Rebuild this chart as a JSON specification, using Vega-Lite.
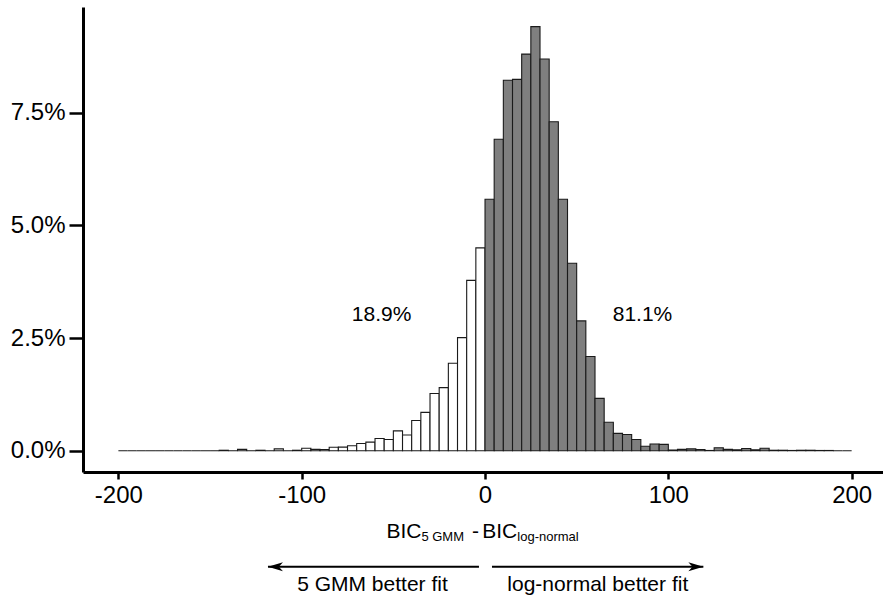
{
  "$schema": "https://vega.github.io/schema/vega-lite/v6.json",
  "width": 800,
  "height": 465,
  "autosize": {"type": "none"},
  "padding": {"left": 83, "top": 7, "right": 0, "bottom": 123},
  "background": "white",
  "config": {
    "view": {"stroke": null},
    "font": "Liberation Sans",
    "text": {"font": "Liberation Sans", "color": "black"}
  },
  "layer": [
    {
      "data": {"values": [
        {"start": -200, "end": -195, "share": 0}, {"start": -195, "end": -190, "share": 0},
        {"start": -190, "end": -185, "share": 0}, {"start": -185, "end": -180, "share": 0},
        {"start": -180, "end": -175, "share": 0}, {"start": -175, "end": -170, "share": 0},
        {"start": -170, "end": -165, "share": 0}, {"start": -165, "end": -160, "share": 0},
        {"start": -160, "end": -155, "share": 0}, {"start": -155, "end": -150, "share": 0},
        {"start": -150, "end": -145, "share": 0}, {"start": -145, "end": -140, "share": 0.0001},
        {"start": -140, "end": -135, "share": 0}, {"start": -135, "end": -130, "share": 0.0003},
        {"start": -130, "end": -125, "share": 0}, {"start": -125, "end": -120, "share": 0.0001},
        {"start": -120, "end": -115, "share": 0}, {"start": -115, "end": -110, "share": 0.0004},
        {"start": -110, "end": -105, "share": 0}, {"start": -105, "end": -100, "share": 0.0001},
        {"start": -100, "end": -95, "share": 0.00055}, {"start": -95, "end": -90, "share": 0.0003},
        {"start": -90, "end": -85, "share": 0.00025}, {"start": -85, "end": -80, "share": 0.00075},
        {"start": -80, "end": -75, "share": 0.0008}, {"start": -75, "end": -70, "share": 0.0011},
        {"start": -70, "end": -65, "share": 0.0016}, {"start": -65, "end": -60, "share": 0.0019},
        {"start": -60, "end": -55, "share": 0.0027}, {"start": -55, "end": -50, "share": 0.0025},
        {"start": -50, "end": -45, "share": 0.0044}, {"start": -45, "end": -40, "share": 0.0035},
        {"start": -40, "end": -35, "share": 0.0067}, {"start": -35, "end": -30, "share": 0.0085},
        {"start": -30, "end": -25, "share": 0.0127}, {"start": -25, "end": -20, "share": 0.014},
        {"start": -20, "end": -15, "share": 0.0194}, {"start": -15, "end": -10, "share": 0.0251},
        {"start": -10, "end": -5, "share": 0.0378}, {"start": -5, "end": 0, "share": 0.045},
        {"start": 0, "end": 5, "share": 0.0558}, {"start": 5, "end": 10, "share": 0.0691},
        {"start": 10, "end": 15, "share": 0.0822}, {"start": 15, "end": 20, "share": 0.0824},
        {"start": 20, "end": 25, "share": 0.088}, {"start": 25, "end": 30, "share": 0.0941},
        {"start": 30, "end": 35, "share": 0.0869}, {"start": 35, "end": 40, "share": 0.073},
        {"start": 40, "end": 45, "share": 0.0558}, {"start": 45, "end": 50, "share": 0.0416},
        {"start": 50, "end": 55, "share": 0.0288}, {"start": 55, "end": 60, "share": 0.0209},
        {"start": 60, "end": 65, "share": 0.0116}, {"start": 65, "end": 70, "share": 0.0063},
        {"start": 70, "end": 75, "share": 0.00385}, {"start": 75, "end": 80, "share": 0.0036},
        {"start": 80, "end": 85, "share": 0.0025}, {"start": 85, "end": 90, "share": 0.001},
        {"start": 90, "end": 95, "share": 0.0015}, {"start": 95, "end": 100, "share": 0.0014},
        {"start": 100, "end": 105, "share": 0.00015}, {"start": 105, "end": 110, "share": 0.0003},
        {"start": 110, "end": 115, "share": 0.0004}, {"start": 115, "end": 120, "share": 0.00025},
        {"start": 120, "end": 125, "share": 0.00005}, {"start": 125, "end": 130, "share": 0.00065},
        {"start": 130, "end": 135, "share": 0.0003}, {"start": 135, "end": 140, "share": 0.0002},
        {"start": 140, "end": 145, "share": 0.0005}, {"start": 145, "end": 150, "share": 0.0002},
        {"start": 150, "end": 155, "share": 0.00055}, {"start": 155, "end": 160, "share": 0.0001},
        {"start": 160, "end": 165, "share": 0.0001}, {"start": 165, "end": 170, "share": 0.00005},
        {"start": 170, "end": 175, "share": 0.0001}, {"start": 175, "end": 180, "share": 0.0001},
        {"start": 180, "end": 185, "share": 0.00005}, {"start": 185, "end": 190, "share": 0.00005},
        {"start": 190, "end": 195, "share": 0}, {"start": 195, "end": 200, "share": 0}
      ]},
      "mark": {"type": "bar", "stroke": "#1a1a1a", "strokeWidth": 1.1},
      "encoding": {
        "x": {
          "field": "start", "type": "quantitative",
          "scale": {"domain": [-219.3, 217.1], "nice": false, "zero": false},
          "axis": {
            "values": [-200, -100, 0, 100, 200],
            "labelExpr": "toString(datum.value)",
            "title": null, "grid": false,
            "domainColor": "black", "domainWidth": 3,
            "tickColor": "black", "tickWidth": 2.5, "tickSize": 7,
            "labelFontSize": 24, "labelColor": "black", "labelPadding": 4,
            "labelFont": "Liberation Sans"
          }
        },
        "x2": {"field": "end"},
        "y": {
          "field": "share", "type": "quantitative",
          "scale": {"domain": [-0.004726, 0.09845], "nice": false, "zero": false},
          "axis": {
            "values": [0, 0.025, 0.05, 0.075], "format": ".1%",
            "title": null, "grid": false,
            "domainColor": "black", "domainWidth": 3,
            "tickColor": "black", "tickWidth": 2.5, "tickSize": 14,
            "labelFontSize": 24, "labelColor": "black", "labelPadding": 4,
            "labelFont": "Liberation Sans"
          }
        },
        "y2": {"datum": 0},
        "fill": {
          "condition": {"test": "datum.start < 0", "value": "white"},
          "value": "#7f7f7f"
        }
      }
    },
    {
      "data": {"values": [
        {"x": -56.4, "y": 0.0288, "label": "18.9%"},
        {"x": 85.9, "y": 0.0288, "label": "81.1%"}
      ]},
      "mark": {"type": "text", "fontSize": 21, "align": "center", "baseline": "alphabetic"},
      "encoding": {
        "x": {"field": "x", "type": "quantitative"},
        "y": {"field": "y", "type": "quantitative"},
        "text": {"field": "label"}
      }
    },
    {
      "data": {"values": [
        {"x": -34.7, "y": -0.01944, "label": "BIC"},
        {"x": 17.6, "y": -0.01944, "label": "BIC"}
      ]},
      "mark": {"type": "text", "fontSize": 21, "align": "right", "baseline": "alphabetic", "clip": false},
      "encoding": {
        "x": {"field": "x", "type": "quantitative"},
        "y": {"field": "y", "type": "quantitative"},
        "text": {"field": "label"}
      }
    },
    {
      "data": {"values": [
        {"x": -5.2, "y": -0.01944, "label": "-"}
      ]},
      "mark": {"type": "text", "fontSize": 21, "align": "center", "baseline": "alphabetic", "clip": false},
      "encoding": {
        "x": {"field": "x", "type": "quantitative"},
        "y": {"field": "y", "type": "quantitative"},
        "text": {"field": "label"}
      }
    },
    {
      "data": {"values": [
        {"x": -34.7, "y": -0.02, "label": "5 GMM"},
        {"x": 17.6, "y": -0.02, "label": "log-normal"}
      ]},
      "mark": {"type": "text", "fontSize": 13, "align": "left", "baseline": "alphabetic", "clip": false},
      "encoding": {
        "x": {"field": "x", "type": "quantitative"},
        "y": {"field": "y", "type": "quantitative"},
        "text": {"field": "label"}
      }
    },
    {
      "data": {"values": [
        {"from": -3.3, "to": -118.4, "y": -0.02574},
        {"from": 3.8, "to": 119.1, "y": -0.02574}
      ]},
      "mark": {"type": "rule", "color": "black", "strokeWidth": 2, "clip": false},
      "encoding": {
        "x": {"field": "from", "type": "quantitative"},
        "x2": {"field": "to"},
        "y": {"field": "y", "type": "quantitative"}
      }
    },
    {
      "data": {"values": [
        {"x": -118.4, "y": -0.02574}
      ]},
      "mark": {"type": "point", "shape": "M0,0L2,-0.6L1.45,0L2,0.6Z", "size": 225, "filled": true, "color": "black", "opacity": 1, "clip": false},
      "encoding": {
        "x": {"field": "x", "type": "quantitative"},
        "y": {"field": "y", "type": "quantitative"}
      }
    },
    {
      "data": {"values": [
        {"x": 119.1, "y": -0.02574}
      ]},
      "mark": {"type": "point", "shape": "M0,0L-2,-0.6L-1.45,0L-2,0.6Z", "size": 225, "filled": true, "color": "black", "opacity": 1, "clip": false},
      "encoding": {
        "x": {"field": "x", "type": "quantitative"},
        "y": {"field": "y", "type": "quantitative"}
      }
    },
    {
      "data": {"values": [
        {"x": -61.4, "y": -0.0311, "label": "5 GMM better fit"},
        {"x": 61.5, "y": -0.0311, "label": "log-normal better fit"}
      ]},
      "mark": {"type": "text", "fontSize": 21, "align": "center", "baseline": "alphabetic", "clip": false},
      "encoding": {
        "x": {"field": "x", "type": "quantitative"},
        "y": {"field": "y", "type": "quantitative"},
        "text": {"field": "label"}
      }
    }
  ]
}
